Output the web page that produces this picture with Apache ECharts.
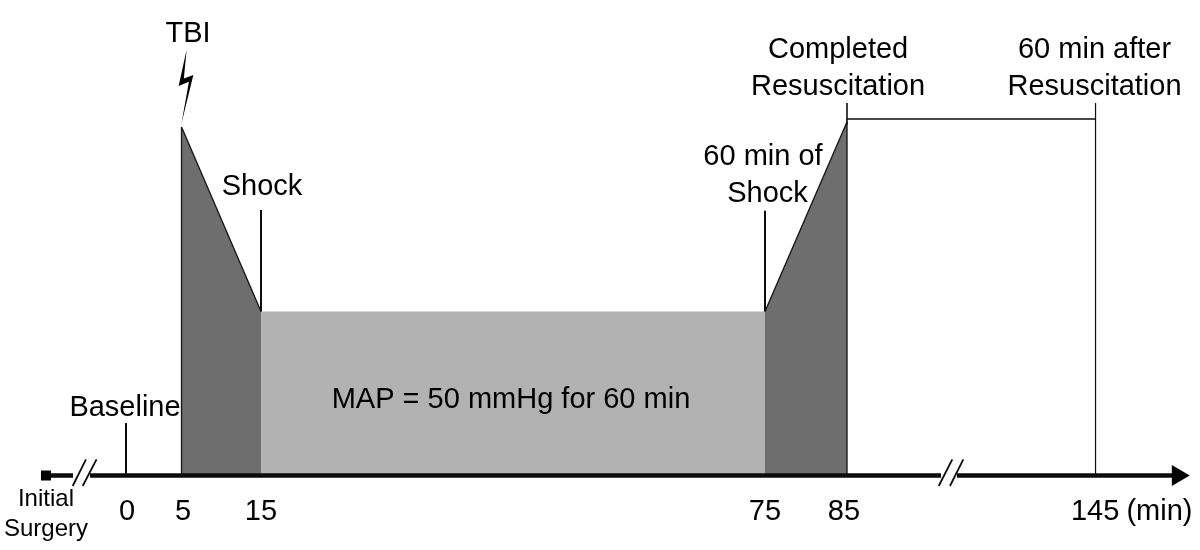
<!DOCTYPE html>
<html>
<head>
<meta charset="utf-8">
<style>html,body{margin:0;padding:0;background:#fff}#c{width:1200px;height:550px}</style>
<script src="https://cdn.jsdelivr.net/npm/echarts@6/dist/echarts.min.js"></script>
</head>
<body>
<div id="c"></div>
<script>
// The timeline is a schematic, not to scale: each time stop has its own drawn position on the axis.
const stopLabels = ['0', '5', '15', '75', '85', '145'];
const stopPositions = [-1.07, 5.54, 15, 75, 84.76, 114.35];
const labelPositions = [-0.95, 5.71, 15, 75, 84.4, 114.3];

// Mean arterial pressure outline (mmHg, schematic)
const tbiDrop = [[5.54, 0], [5.54, 106.25], [15, 50]];
const shockPlateau = [[15, 50], [75, 50]];
const resuscitationRise = [[75, 50], [84.76, 107.8], [84.76, 0]];
const followUpSpan = [[84.76, 108.7], [114.35, 108.7]];

// Vertical event markers
const baselineMarker = [[-1.07, 0], [-1.07, 16]];
const shockMarker = [[15, 50], [15, 81]];
const sixtyMinMarker = [[75, 50], [75, 80.7]];
const completedMarker = [[84.76, 107], [84.76, 113.6]];
const endMarker = [[114.35, 0], [114.35, 113.6]];

// Timeline pieces and axis-break strokes
const timelineStub = [[-10.6, 0], [-7.38, 0]];
const timelineMain = [[-5.36, 0], [95.95, 0]];
const timelineEnd = [[97.86, 0], [124.5, 0]];
const breakStrokes = [
  [[-7.42, -3.2], [-5.83, 4.9]],
  [[-6.23, -3.2], [-4.58, 4.9]],
  [[95.68, -3.2], [97.3, 4.9]],
  [[97.02, -3.2], [98.61, 4.9]]
];
const startPoint = [[-10.6, 0]];
const arrowPoint = [[124.5, 0]];
const boltPoint = [[6.07, 118.55]];

// Text annotations, anchored in axis units
const mainTexts = ['TBI', 'Baseline', 'Shock', 'MAP = 50 mmHg for 60 min', '(min)', '60 min of', 'Shock'];
const mainTextX = [6.31, -1.19, 15.12, 44.76, 121.96, 74.76, 75.3];
const mainTextY = [134.6, 20.6, 88, 23, -11, 97.14, 85.86];
const stackedTexts = ['Completed\nResuscitation', '60 min after\nResuscitation'];
const stackedTextX = [83.7, 114.23];
const stackedTextY = [124.2, 124.2];
const surgeryText = ['Initial\nSurgery'];
const surgeryTextX = [-10.6];
const surgeryTextY = [-11.9];

const FONT = '"Liberation Sans", Arial, sans-serif';
const INK = '#000';

function stroke(data, width, z) {
  return {
    type: 'line', data, clip: false, silent: true, showSymbol: false, symbol: 'none',
    lineStyle: { color: '#0c0c0c', width, cap: 'butt' }, z: z || 5, animation: false
  };
}
function region(data, fill, width) {
  return {
    type: 'line', data, silent: true, showSymbol: false, symbol: 'none', clip: false,
    lineStyle: { color: '#1a1a1a', width, opacity: width ? 1 : 0 },
    areaStyle: { color: fill, opacity: 1, origin: 'start' }, z: 2, animation: false
  };
}
function texts(strings, xs, ys, size, lineHeight) {
  return {
    type: 'scatter', clip: false, silent: true, symbolSize: 1, animation: false, z: 8,
    itemStyle: { color: 'rgba(0,0,0,0)', opacity: 1 },
    data: strings.map((s, i) => ({ value: [xs[i], ys[i]], name: s })),
    label: {
      show: true, position: 'inside', align: 'center', verticalAlign: 'middle',
      formatter: p => p.name, fontFamily: FONT, fontSize: size, lineHeight, color: INK
    }
  };
}
function glyph(data, symbol, size, rotate) {
  return {
    type: 'scatter', data, symbol, symbolSize: size, symbolRotate: rotate || 0, clip: false,
    silent: true, animation: false, z: 6, itemStyle: { color: '#000', opacity: 1 }
  };
}

const chart = echarts.init(document.getElementById('c'), null, { renderer: 'canvas' });
chart.setOption({
  animation: false,
  backgroundColor: '#fff',
  grid: { left: 42.6, right: 6.6, top: 0, bottom: 74.5 },
  xAxis: {
    type: 'value', min: -11, max: 126, splitLine: { show: false },
    axisLine: { show: false }, axisTick: { show: false },
    axisLabel: {
      customValues: labelPositions, margin: 22, hideOverlap: false,
      fontFamily: FONT, fontSize: 29, color: INK,
      formatter: v => stopLabels[labelPositions.indexOf(v)]
    }
  },
  yAxis: { type: 'value', min: 0, max: 145, show: false, splitLine: { show: false } },
  series: [
    region(shockPlateau, '#b2b2b2', 0),
    region(tbiDrop, '#6e6e6e', 1.4),
    region(resuscitationRise, '#6e6e6e', 1.4),
    stroke(followUpSpan, 1.4),
    stroke(baselineMarker, 2),
    stroke(shockMarker, 2),
    stroke(sixtyMinMarker, 2),
    stroke(completedMarker, 1.6),
    stroke(endMarker, 1.2),
    stroke(timelineStub, 4.5),
    stroke(timelineMain, 4.5),
    stroke(timelineEnd, 4.5),
    ...breakStrokes.map(s => stroke(s, 1.8)),
    glyph(startPoint, 'rect', 10),
    glyph(arrowPoint, 'triangle', [21, 18], -90),
    glyph(boltPoint, 'path://M8 0 L0 36.7 L10.3 32.3 L2.7 74.7 L14.7 25.7 L5.2 29.2 Z', [14.7, 74.7]),
    texts(mainTexts, mainTextX, mainTextY, 29, 34),
    texts(stackedTexts, stackedTextX, stackedTextY, 29, 37),
    texts(surgeryText, surgeryTextX, surgeryTextY, 24, 30)
  ]
});
</script>
</body>
</html>
